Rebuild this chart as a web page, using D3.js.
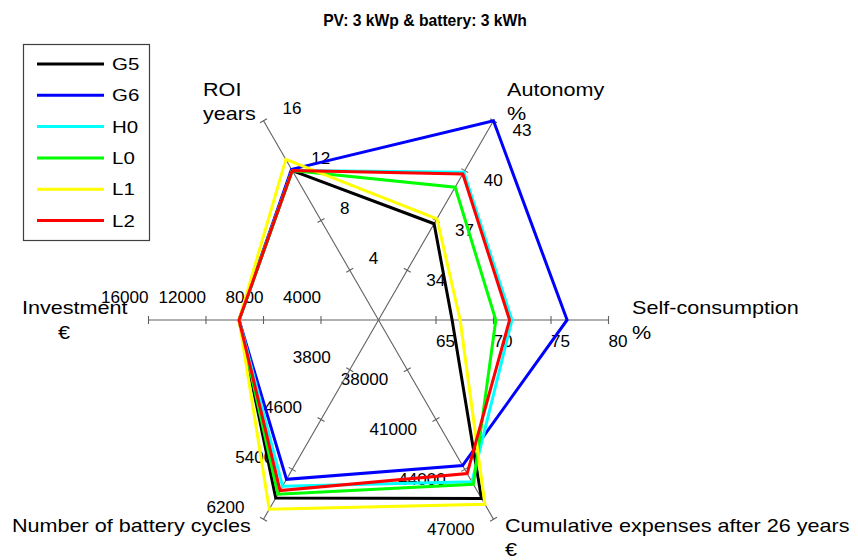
<!DOCTYPE html>
<html>
<head>
<meta charset="utf-8">
<script src="https://cdn.jsdelivr.net/npm/d3@7"></script>
<style>
  body { margin: 0; background: #ffffff; }
  text { font-family: "Liberation Sans", Arial, sans-serif; fill: #000; }
</style>
</head>
<body>
<svg id="chart" width="858" height="560"></svg>
<script>
// axes, clockwise from ROI (upper left)
var axisTitles = [["ROI", "years"], ["Autonomy", "%"], ["Self-consumption", "%"],
                  ["Cumulative expenses after 26 years", "€"], ["Number of battery cycles"], ["Investment", "€"]];
var axisMin = [0, 31, 60, 35000, 3000, 0];
var axisTicks = [[4, 8, 12, 16], [34, 37, 40, 43], [65, 70, 75, 80],
                 [38000, 41000, 44000, 47000], [3800, 4600, 5400, 6200], [4000, 8000, 12000, 16000]];

var seriesNames = ["G5", "G6", "H0", "L0", "L1", "L2"];
// ROI, autonomy, self-consumption, cumulative expenses, battery cycles, investment
var g5 = [12.0, 36.8, 66.4, 45750, 5860, 9700];
var g6 = [12.1, 43.0, 76.4, 43770, 5560, 9700];
var h0 = [12.0, 39.9, 71.6, 44750, 5670, 9700];
var l0 = [12.0, 39.0, 70.2, 44900, 5800, 9700];
var l1 = [12.9, 37.1, 67.1, 46100, 6040, 9700];
var l2 = [12.0, 39.8, 71.4, 44250, 5740, 9700];
var seriesValues = [g5, g6, h0, l0, l1, l2];
var seriesColors = ["#000000", "#0000ff", "#00ffff", "#00ff00", "#ffff00", "#ff0000"];

var cx = 378.5, cy = 320, R = 230;
var svg = d3.select("#chart");

// stretched text helper (the original labels are a bit wide)
function addText(g, x, y, str, size, sx, anchor, weight) {
    return g.append("text")
        .attr("transform", "translate(" + x + "," + y + ") scale(" + sx + ",1)")
        .attr("text-anchor", anchor || "start")
        .attr("font-size", size + "px")
        .attr("font-weight", weight || "normal")
        .text(str);
}

var axes = axisTitles.map(function(t, i) {
    var a = (120 - 60 * i) * Math.PI / 180;
    var dir = [Math.cos(a), -Math.sin(a)];
    var ticks = axisTicks[i];
    var scale = d3.scaleLinear().domain([axisMin[i], ticks[ticks.length - 1]]).range([0, R]);
    return {dir: dir, perp: [-dir[1], dir[0]], scale: scale, ticks: ticks};
});

function pt(ax, v) {
    var r = ax.scale(v);
    return [cx + ax.dir[0] * r, cy + ax.dir[1] * r];
}

// title
addText(svg, 425, 26, "PV: 3 kWp & battery: 3 kWh", 16, 0.98, "middle", "bold");

// axis lines and ticks
var gAxes = svg.append("g");
axes.forEach(function(ax) {
    var end = pt(ax, ax.ticks[ax.ticks.length - 1]);
    gAxes.append("line")
        .attr("x1", cx).attr("y1", cy)
        .attr("x2", end[0]).attr("y2", end[1])
        .style("stroke", "#606060")
        .style("stroke-width", 1.1);
    ax.ticks.forEach(function(t) {
        var p = pt(ax, t);
        gAxes.append("line")
            .attr("x1", p[0] - ax.perp[0] * 4).attr("y1", p[1] - ax.perp[1] * 4)
            .attr("x2", p[0] + ax.perp[0] * 4).attr("y2", p[1] + ax.perp[1] * 4)
            .style("stroke", "#606060")
            .style("stroke-width", 1.1);
        var anchor;
        if (ax.perp[0] > 0.1) anchor = "start";
        else if (ax.perp[0] < -0.1) anchor = "end";
        else anchor = ax.dir[0] > 0 ? "start" : "end";
        addText(gAxes, p[0] + ax.perp[0] * 22, p[1] + ax.perp[1] * 22 + 4.5, String(t), 16, 1.07, anchor);
    });
});

// axis titles
var gTitles = svg.append("g");
var titlePos = [[203, 96], [507, 96], [632, 314], [505, 532], [12, 532], [22, 314]];
var secondPos = [[203, 120], [507, 120], [632, 339], [505, 556], null, [58, 339]];
axisTitles.forEach(function(t, i) {
    addText(gTitles, titlePos[i][0], titlePos[i][1], t[0], 18, 1.2);
    if (t[1]) addText(gTitles, secondPos[i][0], secondPos[i][1], t[1], 18, 1.2);
});

// series polygons
var line = d3.line().curve(d3.curveLinearClosed);
var gSeries = svg.append("g");
seriesValues.forEach(function(vals, s) {
    var pts = vals.map(function(v, i) { return pt(axes[i], v); });
    gSeries.append("path")
        .attr("d", line(pts))
        .style("fill", "none")
        .style("stroke", seriesColors[s])
        .style("stroke-width", 3)
        .style("stroke-linejoin", "miter");
});

// legend
var legend = svg.append("g");
legend.append("rect")
    .attr("x", 23.5).attr("y", 44.5)
    .attr("width", 126).attr("height", 196)
    .style("fill", "#ffffff")
    .style("stroke", "#404040")
    .style("stroke-width", 1.2);
seriesNames.forEach(function(n, s) {
    var y = 64 + s * 31.3;
    legend.append("line")
        .attr("x1", 37).attr("x2", 104)
        .attr("y1", y).attr("y2", y)
        .style("stroke", seriesColors[s])
        .style("stroke-width", 3);
    addText(legend, 112, y + 6, n, 16, 1.28);
});
</script>
</body>
</html>
